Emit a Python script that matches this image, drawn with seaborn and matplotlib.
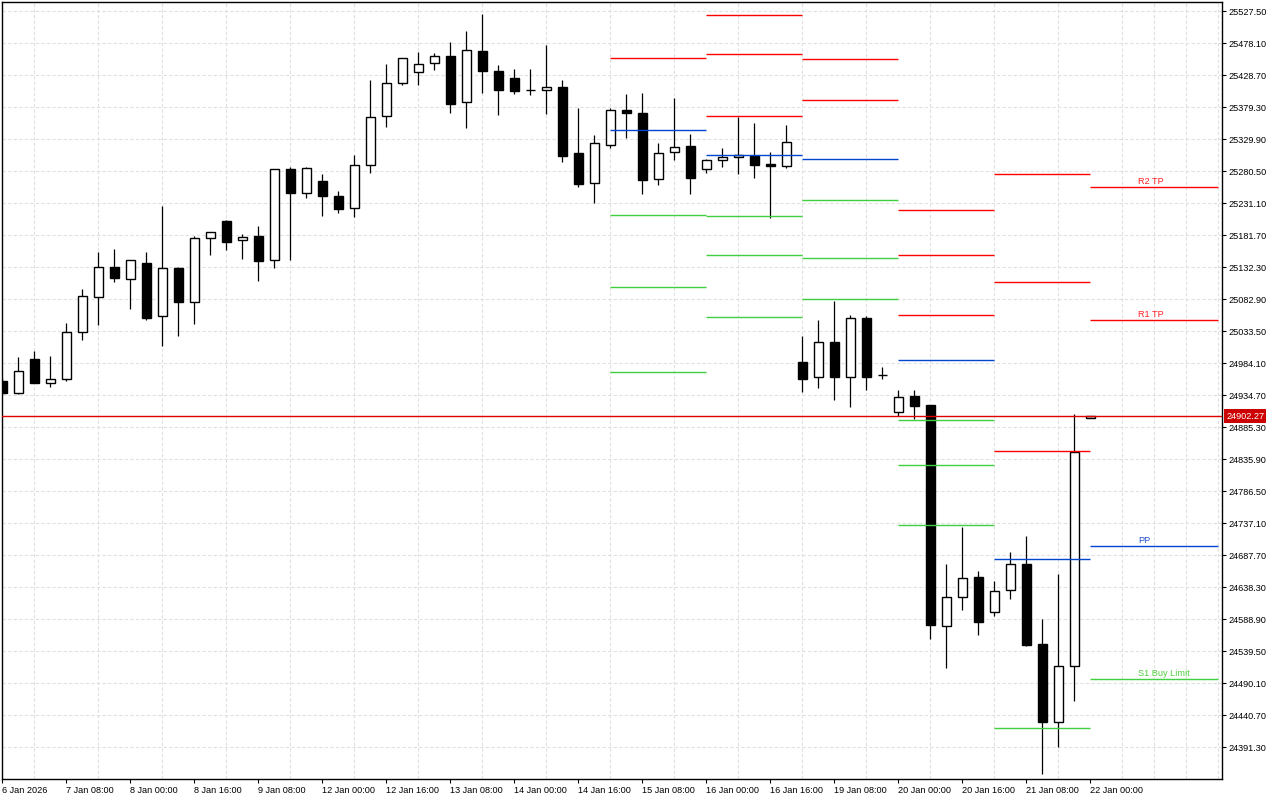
import matplotlib.pyplot as plt
import seaborn as sns

sns.set_theme(style="white")
plt.rcParams["font.family"] = ["Liberation Sans", "DejaVu Sans"]

# H4 candles, bar index 0 = 6 Jan 16:00 ... 68 = 22 Jan 00:00
opens = [24956.3, 24938.2, 24989.8, 24952.8, 24959.9, 25031.5, 25085.5, 25131.8, 25113.3, 25138.0,
         25056.2, 25130.3, 25078.7, 25176.6, 25203.3, 25173.5, 25179.7, 25142.6, 25283.1, 25247.0,
         25264.6, 25241.4, 25222.9, 25289.3, 25364.9, 25415.9, 25432.9, 25446.8, 25457.6, 25386.6,
         25465.3, 25434.4, 25423.6, 25405.1, 25405.1, 25409.7, 25307.8, 25261.5, 25320.2, 25374.2,
         25369.6, 25268.6, 25309.4, 25318.6, 25284.0, 25297.0, 25301.6, 25304.1, 25290.8, 25287.8,
         24985.2, 24963.0, 25016.1, 24963.0, 25053.1, 24965.1, 24908.9, 24933.2, 24919.3, 24578.6,
         24622.4, 24653.3, 24599.2, 24633.2, 24673.3, 24549.8, 24430.4, 24515.9, 24899.0]
highs = [24960.9, 24993.4, 25002.6, 24994.9, 25045.9, 25098.3, 25155.5, 25160.1, 25142.6, 25155.5,
         25226.0, 25131.8, 25179.7, 25185.9, 25204.9, 25182.8, 25195.6, 25283.1, 25286.2, 25286.2,
         25275.9, 25249.6, 25305.2, 25421.0, 25445.7, 25454.5, 25464.2, 25462.7, 25479.2, 25496.2,
         25522.4, 25443.7, 25437.5, 25437.5, 25475.0, 25420.5, 25377.3, 25335.6, 25377.3, 25398.9,
         25400.5, 25323.3, 25392.7, 25337.2, 25299.5, 25316.5, 25364.3, 25354.6, 25309.4, 25351.0,
         25025.3, 25050.0, 25079.3, 25057.7, 25056.2, 24977.9, 24942.4, 24942.4, 24919.3, 24673.8,
         24730.9, 24663.0, 24647.6, 24691.9, 24717.0, 24588.9, 24657.9, 24904.9, 24903.0]
lows = [24937.0, 24936.7, 24952.8, 24947.5, 24956.8, 25020.1, 25043.2, 25109.6, 25067.9, 25050.9,
        25010.8, 25026.2, 25044.8, 25151.3, 25159.0, 25145.1, 25111.2, 25130.3, 25143.6, 25239.3,
        25211.5, 25215.2, 25210.0, 25277.9, 25348.9, 25413.7, 25413.7, 25436.9, 25370.5, 25347.3,
        25401.4, 25367.4, 25399.8, 25398.3, 25369.0, 25294.9, 25256.3, 25231.6, 25316.5, 25331.9,
        25245.5, 25259.4, 25297.9, 25245.5, 25277.9, 25287.1, 25276.3, 25270.2, 25208.4, 25285.6,
        24939.8, 24946.0, 24927.4, 24916.6, 24942.9, 24959.9, 24902.7, 24898.1, 24558.5, 24513.7,
        24603.3, 24564.7, 24594.0, 24620.2, 24547.7, 24350.1, 24391.8, 24462.8, 24898.5]
closes = [24938.2, 24971.8, 24953.7, 24958.9, 25031.5, 25087.1, 25131.8, 25115.8, 25142.6, 25054.0,
          25130.3, 25078.7, 25176.6, 25185.9, 25171.4, 25178.1, 25142.0, 25283.1, 25247.0, 25284.7,
          25242.4, 25222.3, 25289.3, 25363.4, 25415.9, 25454.5, 25445.2, 25457.6, 25384.4, 25466.8,
          25435.3, 25406.0, 25404.5, 25405.1, 25409.7, 25304.1, 25260.9, 25323.3, 25374.2, 25369.6,
          25267.1, 25307.8, 25317.1, 25270.2, 25297.9, 25301.6, 25304.7, 25290.2, 25287.8, 25324.8,
          24959.9, 25016.1, 24963.0, 25053.1, 24963.0, 24965.1, 24931.2, 24918.2, 24580.1, 24622.4,
          24651.7, 24584.7, 24631.7, 24673.3, 24549.2, 24430.4, 24515.9, 24846.2, 24902.27]

last_price = 24902.27

# daily pivot segments (bar index where each day starts / ends)
day_start = [38, 44, 50, 56, 62, 68]
day_end = [44, 50, 56, 62, 68, 76]
resist_levels = [[25454.5],
                 [25520.9, 25461.1, 25364.9],
                 [25452.9, 25390.1],
                 [25219.8, 25150.4, 25057.7],
                 [25275.4, 25108.7, 24847.8],
                 [25255.3, 25050.0]]
pivot_levels = [25343.3, 25304.7, 25298.6, 24988.3, 24681.1, 24701.1]
support_levels = [[25212.1, 25101.0, 24969.7],
                  [25210.6, 25150.4, 25054.6],
                  [25235.3, 25145.7, 25082.4],
                  [24895.6, 24826.2, 24733.6],
                  [24420.2],
                  [24495.8]]

level_names = ["R2 TP", "R1 TP", "PP", "S1 Buy Limit"]
level_values = [25255.3, 25050.0, 24701.1, 24495.8]
level_colors = ["#ff2020", "#ff2020", "#2050d0", "#50d040"]

xtick_labels = ["6 Jan 2026", "7 Jan 08:00", "8 Jan 00:00", "8 Jan 16:00", "9 Jan 08:00",
                "12 Jan 00:00", "12 Jan 16:00", "13 Jan 08:00", "14 Jan 00:00", "14 Jan 16:00",
                "15 Jan 08:00", "16 Jan 00:00", "16 Jan 16:00", "19 Jan 08:00", "20 Jan 00:00",
                "20 Jan 16:00", "21 Jan 08:00", "22 Jan 00:00"]
ytick_values = [25527.50, 25478.10, 25428.70, 25379.30, 25329.90, 25280.50, 25231.10, 25181.70,
                25132.30, 25082.90, 25033.50, 24984.10, 24934.70, 24885.30, 24835.90, 24786.50,
                24737.10, 24687.70, 24638.30, 24588.90, 24539.50, 24490.10, 24440.70, 24391.30]

RED = "#ff0000"
BLUE = "#0046d0"
GREEN = "#3fcf3f"
FS = 6.6

fig = plt.figure(figsize=(12.8, 8.0), dpi=100)
ax = fig.add_axes([2 / 1280, 21 / 800, 1220 / 1280, 777 / 800])
ax.set_facecolor("white")

# candles
idx = list(range(len(opens)))
ax.vlines(idx, lows, highs, color="black", lw=0.9, zorder=3)
body_h = [c - o for o, c in zip(opens, closes)]
face = ["white" if c > o else "black" for o, c in zip(opens, closes)]
ax.bar(idx, body_h, bottom=opens, width=0.58, color=face, edgecolor="black",
       linewidth=1.0, zorder=4)

# pivot segments
for i in range(len(day_start)):
    x0, x1 = day_start[i], day_end[i]
    ax.hlines(resist_levels[i], x0, x1, colors=RED, lw=1.0, zorder=5)
    ax.hlines(pivot_levels[i], x0, x1, colors=BLUE, lw=1.0, zorder=5)
    ax.hlines(support_levels[i], x0, x1, colors=GREEN, lw=1.0, zorder=5)

for name, val, col in zip(level_names, level_values, level_colors):
    ax.annotate(name, xy=(71, val), xytext=(0, 2.6), textcoords="offset points",
                ha="left", va="baseline", fontsize=FS, color=col, zorder=6)

# current price line + label
ax.axhline(last_price, color="#e00000", lw=1.0, zorder=5)
ax.text(1.0 + 4 / 1220, last_price, f"{last_price:.2f}", transform=ax.get_yaxis_transform(),
        ha="left", va="center", fontsize=FS, color="white", zorder=7, clip_on=False,
        bbox=dict(boxstyle="square,pad=0.25", fc="#cc0000", ec="none"))

# axes
ax.set_xlim(-0.031, 76.22)
ax.set_ylim(24341.9, 25541.4)

ax.set_xticks(range(0, 69, 4))
ax.set_xticklabels(xtick_labels, fontsize=FS)
for lbl in ax.get_xticklabels():
    lbl.set_horizontalalignment("left")
ax.set_xticks(range(0, 77, 2), minor=True)

ax.yaxis.tick_right()
ax.set_yticks(ytick_values)
ax.set_yticklabels([f"{v:.2f}" for v in ytick_values], fontsize=FS)

ax.tick_params(axis="x", which="major", direction="out", length=3.2, width=0.8,
               pad=1.5, colors="black", bottom=True)
ax.tick_params(axis="x", which="minor", length=0)
ax.tick_params(axis="y", which="major", direction="out", length=3, width=0.8,
               pad=1.5, colors="black", right=True, left=False)

ax.grid(True, axis="y", which="major", color="#e0e0e0", linestyle=(0, (3, 2)), lw=0.8)
ax.grid(True, axis="x", which="minor", color="#e0e0e0", linestyle=(0, (3, 2)), lw=0.8)
ax.set_axisbelow(True)

for sp in ax.spines.values():
    sp.set_visible(True)
    sp.set_color("black")
    sp.set_linewidth(1.0)

fig.savefig("out.png", dpi=100, facecolor="white")
